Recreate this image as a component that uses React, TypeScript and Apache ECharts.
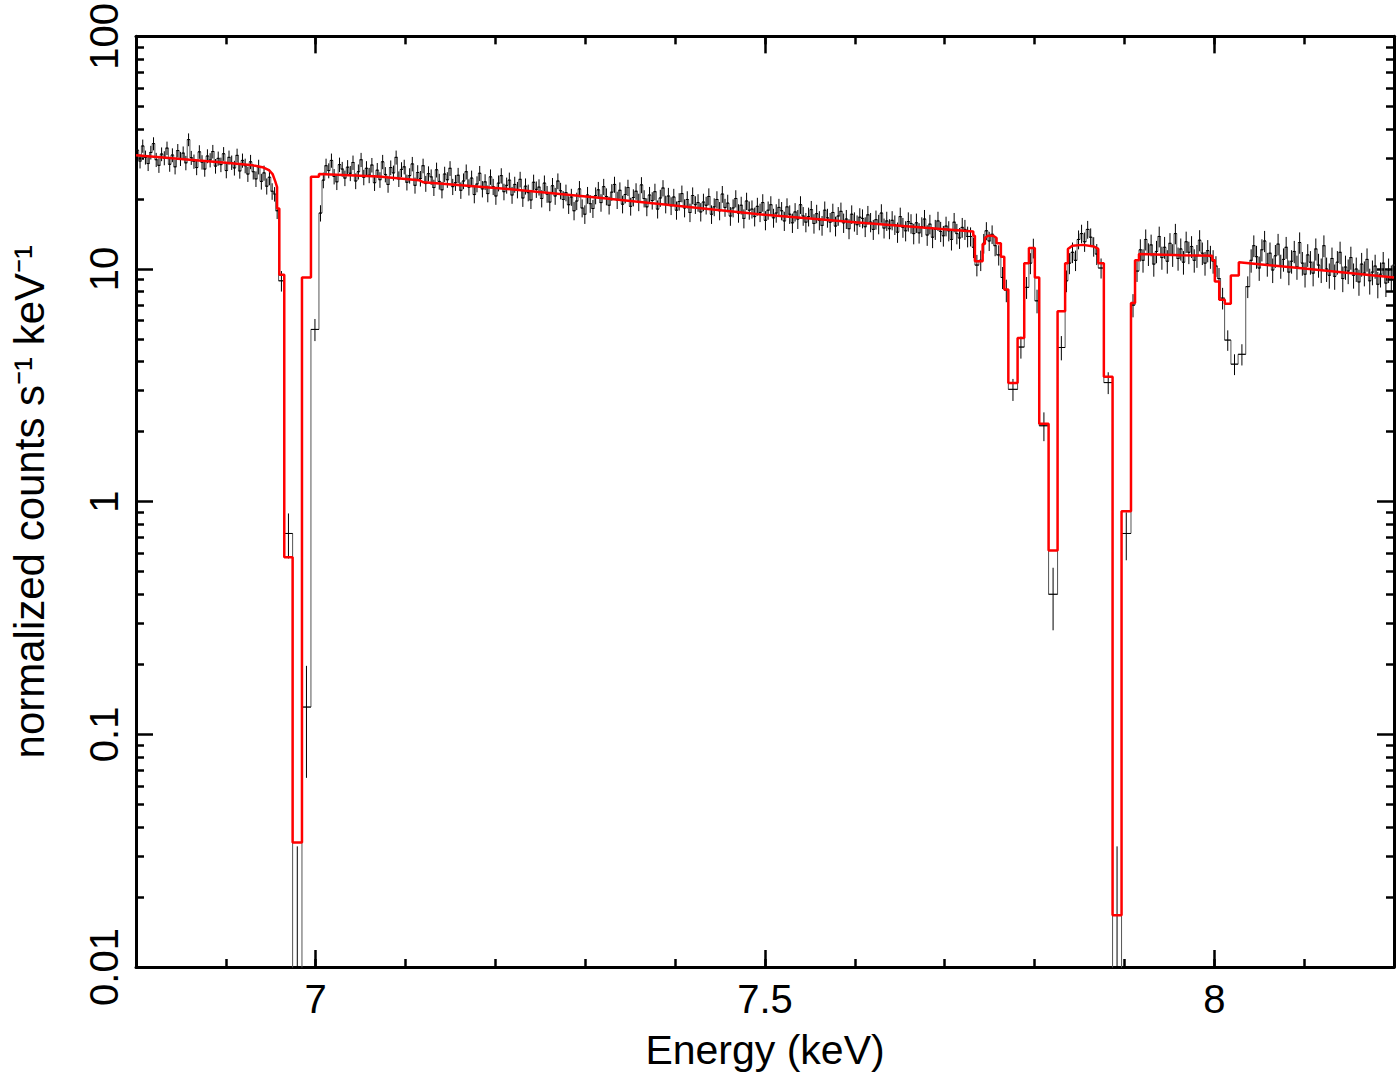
import React, { useEffect, useRef } from "react";
import * as echarts from "echarts";

// ---------- data ----------
const binW = 0.003;
const errK = 0.38; // statistical error scale for continuum bins

const segAStart = 6.8;
const segA = [
  32.4, 29.1, 33.8, 30.2, 28.4, 31.7, 34.6, 29.5, 27.9, 31.2,
  30.0, 33.1, 28.2, 30.9, 27.5, 32.3, 29.8, 31.5, 28.6, 36.0,
  30.1, 29.0, 27.3, 31.9, 28.8, 26.9, 30.6, 29.4, 32.0, 27.7,
  29.9, 28.1, 31.3, 26.5, 30.2, 28.7, 27.2, 30.8, 26.4, 29.3,
  27.8, 25.6, 28.9, 26.2, 24.4, 27.5, 23.8, 25.9, 22.7, 24.8, 21.6,
];

const segBStart = 7.007;
const segB = [
  24.1, 27.8, 26.5, 29.3, 25.0, 23.7, 28.1, 26.9, 24.6, 27.4,
  25.8, 28.7, 23.9, 26.2, 29.5, 24.8, 27.1, 25.3, 28.0, 23.5,
  26.6, 24.2, 28.9, 25.5, 23.1, 27.3, 25.9, 30.2, 24.4, 26.8,
  27.5, 23.6, 25.2, 28.3, 22.9, 26.0, 24.5, 27.8, 23.3, 25.7,
  24.9, 22.4, 26.7, 23.8, 21.9, 25.6, 24.2, 27.1, 22.6, 23.5,
  25.3, 21.8, 23.9, 26.2, 22.5, 24.6, 20.9, 23.2, 25.8, 22.1,
  23.7, 21.1, 24.9, 22.6, 20.6, 23.4, 25.2, 21.5, 22.9, 24.1,
  20.8, 23.1, 21.9, 24.3, 20.2, 22.7, 21.3, 19.8, 23.6, 22.0,
  22.5, 20.1, 23.4, 21.0, 19.4, 22.8, 20.6, 23.9, 21.7, 19.9,
  21.3, 18.9, 20.4, 17.8, 19.6, 22.1, 18.3, 17.2, 20.8, 19.1,
  18.2, 20.7, 21.9, 19.3, 22.6, 20.5, 18.8, 21.4, 23.1, 19.8,
  21.8, 19.0, 20.9, 22.4, 18.6, 20.3, 21.6, 19.4, 23.0, 20.1,
  18.5, 20.8, 19.7, 21.5, 18.1, 20.2, 22.3, 19.0, 20.6, 18.7,
  20.4, 17.9, 19.5, 21.1, 18.3, 19.9, 17.5, 20.7, 18.9, 19.3,
  17.6, 19.4, 18.8, 20.5, 17.2, 18.5, 19.9, 17.8, 21.0, 18.4,
  19.2, 16.9, 18.3, 20.1, 17.4, 18.8, 16.5, 19.6, 17.9, 18.1,
  16.8, 18.6, 17.5, 19.3, 16.2, 17.9, 18.9, 16.6, 17.4, 18.4,
  17.8, 16.1, 18.5, 17.2, 15.8, 17.6, 16.4, 18.9, 16.9, 15.9,
  16.8, 18.0, 15.7, 17.3, 16.2, 15.4, 17.9, 16.6, 15.9, 17.5,
  15.3, 16.9, 17.7, 15.8, 16.4, 14.9, 17.2, 16.0, 15.5, 16.7,
  16.5, 15.2, 17.1, 15.9, 14.8, 16.3, 15.6, 17.4, 15.0, 16.1,
  14.9, 16.2, 15.5, 14.4, 16.8, 15.1, 14.6, 16.0, 15.7, 14.2,
  15.8, 14.3, 15.2, 16.4, 14.0, 15.6, 13.7, 14.8, 16.1, 14.5,
  13.9, 15.3, 14.6, 13.4, 15.9, 14.2, 13.6, 15.1, 14.8, 13.8,
];

const segCStart = 7.9162;
const segC = [
  12.1, 10.9, 13.4, 11.6, 12.7, 10.5, 11.9, 13.8, 11.2, 12.4,
  10.8, 12.9, 11.5, 14.2, 11.1, 12.2, 10.7, 13.1, 11.8, 12.5,
  10.9, 11.4, 13.3, 11.7, 10.6, 12.0, 11.3, 10.8,
];

const segDStart = 8.0395;
const segD = [
  10.9, 12.6, 11.3, 10.1, 12.1, 13.2, 10.5, 11.7, 9.9, 11.4,
  12.8, 10.3, 11.0, 12.4, 9.7, 10.8, 11.9, 10.2, 13.0, 10.6,
  9.5, 11.5, 10.7, 9.6, 12.2, 10.4, 9.9, 12.6, 10.0, 9.4,
  11.1, 9.3, 10.7, 11.8, 9.1, 10.2, 9.8, 11.2, 9.4, 10.0,
  8.8, 10.5, 9.6, 11.0, 8.9, 9.7, 10.3, 8.6, 9.5, 10.6,
  8.7, 9.9, 9.2, 10.4,
];

// bins around the absorption lines (irregular widths)
const lineLo = [
  6.953, 6.9555, 6.9587, 6.965, 6.9743, 6.9847, 6.9947, 7.0036,
  7.727, 7.7305, 7.7336, 7.738, 7.7422, 7.7447, 7.748, 7.751, 7.7545, 7.7577, 7.7625, 7.7663,
  7.7708, 7.7811, 7.7885, 7.7937, 7.797, 7.8003, 7.8052, 7.8156, 7.8256, 7.834,
  7.8371, 7.8405, 7.8439, 7.8473, 7.8506, 7.854, 7.8574, 7.8608, 7.8641, 7.8675,
  7.8709, 7.8771, 7.8868, 7.8968, 7.9073, 7.9118,
  8.0002, 8.0035, 8.007, 8.0115, 8.0185, 8.0265, 8.035,
];
const lineHi = [
  6.9555, 6.9587, 6.965, 6.9743, 6.9847, 6.9947, 7.0036, 7.007,
  7.7305, 7.7336, 7.738, 7.7422, 7.7447, 7.748, 7.751, 7.7545, 7.7577, 7.7625, 7.7663, 7.7708,
  7.7811, 7.7885, 7.7937, 7.797, 7.8003, 7.8052, 7.8156, 7.8256, 7.834, 7.8371,
  7.8405, 7.8439, 7.8473, 7.8506, 7.854, 7.8574, 7.8608, 7.8641, 7.8675, 7.8709,
  7.8771, 7.8868, 7.8968, 7.9073, 7.9118, 7.9162,
  8.0035, 8.007, 8.0115, 8.0185, 8.0265, 8.035, 8.0395,
];
const lineVal = [
  21.0, 17.8, 8.9, 0.73, 0.001, 0.131, 5.5, 17.4,
  13.8, 12.4, 10.4, 10.9, 12.9, 14.6, 13.2, 14.1, 12.6, 11.5, 9.2, 8.1,
  3.04, 4.62, 8.34, 10.6, 12.3, 7.3, 2.12, 0.40, 4.6, 8.9,
  10.6, 11.8, 10.9, 13.4, 14.2, 13.1, 14.8, 13.7, 12.5, 11.6,
  10.1, 3.25, 0.001, 0.73, 7.0, 9.8,
  10.3, 9.1, 7.5, 4.95, 3.9, 4.3, 8.4,
];
const lineErr = [
  1.5, 1.4, 0.9, 0.16, 0.032, 0.066, 0.6, 1.4,
  1.3, 1.25, 1.1, 1.1, 1.25, 1.3, 1.25, 1.3, 1.25, 1.15, 1.0, 0.9,
  0.33, 0.5, 0.9, 1.1, 1.2, 0.85, 0.3, 0.12, 0.55, 0.95,
  1.1, 1.2, 1.1, 1.25, 1.3, 1.25, 1.3, 1.25, 1.2, 1.2,
  1.0, 0.35, 0.032, 0.17, 0.8, 1.0,
  1.05, 1.0, 0.8, 0.5, 0.4, 0.45, 0.9,
];

// model (red) step curve corners
const modelE = [
  6.800, 6.850, 6.900, 6.930, 6.942, 6.948, 6.952, 6.955, 6.957, 6.957, 6.9595, 6.9595, 6.965, 6.965, 6.9743, 6.9743, 6.9847, 6.9847, 6.9947, 6.9947, 7.0036, 7.0036,
  7.07, 7.115, 7.12, 7.207, 7.318, 7.5, 7.6, 7.7318,
  7.7318, 7.7336, 7.7336, 7.7422, 7.7422, 7.7447, 7.7447, 7.748, 7.754, 7.7577, 7.7577, 7.7625, 7.7625, 7.7663, 7.7663, 7.7708, 7.7708, 7.7811, 7.7811, 7.7885, 7.7885, 7.7937, 7.7937, 7.8003, 7.8003, 7.8052, 7.8052, 7.8156, 7.8156, 7.8256, 7.8256, 7.834, 7.834, 7.8371, 7.8371, 7.842, 7.854, 7.866, 7.8709, 7.8709, 7.8771, 7.8771, 7.8868, 7.8868, 7.8968, 7.8968, 7.9073, 7.9073, 7.9118, 7.9118, 7.9162, 7.9162,
  7.9635, 7.9977, 7.9977, 8.0006, 8.0006, 8.0055, 8.0055, 8.0117, 8.0117, 8.0184, 8.0184, 8.0273, 8.0273, 8.1, 8.2,
];
const modelV = [
  30.8, 29.7, 28.6, 27.9, 27.3, 26.6, 25.6, 23.8, 22.5, 18.2, 18.2, 9.46, 9.46, 0.577, 0.577, 0.0343, 0.0343, 9.2, 9.2, 24.9, 24.9, 25.6,
  25.0, 24.1, 23.6, 22.2, 20.2, 17.1, 15.9, 14.5,
  13.9, 13.9, 10.8, 10.8, 12.8, 12.8, 13.6, 13.9, 13.9, 13.6, 12.9, 12.9, 11.3, 11.3, 8.17, 8.17, 3.24, 3.24, 5.05, 5.05, 10.6, 10.6, 12.3, 12.3, 9.2, 9.2, 2.16, 2.16, 0.617, 0.617, 6.58, 6.58, 10.6, 10.6, 12.2, 12.6, 12.7, 12.5, 12.2, 10.6, 10.6, 3.44, 3.44, 0.0167, 0.0167, 0.91, 0.91, 7.14, 7.14, 10.9, 10.9, 11.6,
  11.45, 11.4, 10.9, 10.9, 8.84, 8.84, 7.38, 7.38, 7.09, 7.09, 9.38, 9.38, 10.7, 10.05, 9.2,
];

const xMajorTicks = [7, 7.5, 8];
const xMinorTicks = [6.9, 7.0, 7.1, 7.2, 7.3, 7.4, 7.5, 7.6, 7.7, 7.8, 7.9, 8.0, 8.1];
const yMinorTicks = [0.02, 0.03, 0.04, 0.05, 0.06, 0.07, 0.08, 0.09, 0.2, 0.3, 0.4, 0.5, 0.6, 0.7, 0.8, 0.9, 2, 3, 4, 5, 6, 7, 8, 9, 20, 30, 40, 50, 60, 70, 80, 90];

const FONT = "'Liberation Sans', Arial, Helvetica, sans-serif";
const FLOOR = 1e-4;

function buildBins() {
  const bins: number[][] = [];
  const addSeg = (start: number, vals: number[]) => {
    vals.forEach((v, i) => {
      const lo = start + i * binW;
      bins.push([lo, lo + binW, v, errK * Math.sqrt(v)]);
    });
  };
  addSeg(segAStart, segA);
  addSeg(segBStart, segB);
  addSeg(segCStart, segC);
  addSeg(segDStart, segD);
  lineLo.forEach((lo, i) => bins.push([lo, lineHi[i], lineVal[i], lineErr[i]]));
  bins.sort((a, b) => a[0] - b[0]);
  return bins;
}

export default function App() {
  const ref = useRef<HTMLDivElement>(null);
  useEffect(() => {
    if (!ref.current) return;
    const chart = echarts.init(ref.current, undefined, { renderer: "svg" });
    const bins = buildBins();
    const stepData: number[][] = [];
    bins.forEach((b) => {
      const v = Math.max(b[2], FLOOR);
      stepData.push([b[0], v]);
      stepData.push([b[1], v]);
    });
    const modelData = modelE.map((e, i) => [e, modelV[i]]);

    const axisLine = { show: true, onZero: false, lineStyle: { color: "#000", width: 3 } };
    const tickStyle = { color: "#000", width: 2.5 };
    const xBase = { type: "value", min: 6.8, max: 8.2, splitLine: { show: false } };
    const yBase = { type: "log", logBase: 10, min: 0.01, max: 100, splitLine: { show: false } };

    chart.setOption({
      animation: false,
      backgroundColor: "#fff",
      grid: { left: 134, top: 34, right: 4, bottom: 107, containLabel: false },
      xAxis: [
        {
          ...xBase,
          position: "bottom",
          axisLine,
          axisTick: { show: true, inside: true, length: 17, customValues: xMajorTicks, lineStyle: tickStyle },
          axisLabel: { show: true, customValues: xMajorTicks, fontSize: 40, fontFamily: FONT, color: "#000", margin: 12, formatter: (v: number) => String(v) },
          name: "Energy (keV)",
          nameLocation: "middle",
          nameGap: 62,
          nameTextStyle: { fontSize: 41, fontFamily: FONT, color: "#000" },
        },
        {
          ...xBase,
          position: "bottom",
          axisLine: { show: false },
          axisTick: { show: true, inside: true, length: 8, customValues: xMinorTicks, lineStyle: tickStyle },
          axisLabel: { show: false },
        },
        {
          ...xBase,
          position: "top",
          axisLine,
          axisTick: { show: true, inside: true, length: 17, customValues: xMajorTicks, lineStyle: tickStyle },
          axisLabel: { show: false },
        },
        {
          ...xBase,
          position: "top",
          axisLine: { show: false },
          axisTick: { show: true, inside: true, length: 8, customValues: xMinorTicks, lineStyle: tickStyle },
          axisLabel: { show: false },
        },
      ],
      yAxis: [
        {
          ...yBase,
          position: "left",
          axisLine,
          axisTick: { show: true, inside: true, length: 17, lineStyle: tickStyle },
          axisLabel: { show: true, rotate: 90, fontSize: 40, fontFamily: FONT, color: "#000", margin: 12, formatter: (v: number) => String(v) },
          name: "normalized counts s\u207B\u00B9 keV\u207B\u00B9",
          nameLocation: "middle",
          nameGap: 86,
          nameTextStyle: { fontSize: 42, fontFamily: FONT, color: "#000" },
        },
        {
          ...yBase,
          position: "left",
          axisLine: { show: false },
          axisTick: { show: true, inside: true, length: 8, customValues: yMinorTicks, lineStyle: tickStyle },
          axisLabel: { show: false },
        },
        {
          ...yBase,
          position: "right",
          axisLine,
          axisTick: { show: true, inside: true, length: 17, lineStyle: tickStyle },
          axisLabel: { show: false },
        },
        {
          ...yBase,
          position: "right",
          axisLine: { show: false },
          axisTick: { show: true, inside: true, length: 8, customValues: yMinorTicks, lineStyle: tickStyle },
          axisLabel: { show: false },
        },
      ],
      series: [
        {
          type: "line",
          name: "data-step",
          data: stepData,
          xAxisIndex: 0,
          yAxisIndex: 0,
          symbol: "none",
          clip: true,
          lineStyle: { color: "#555", width: 1 },
          z: 2,
        },
        {
          type: "custom",
          name: "data",
          data: bins,
          xAxisIndex: 0,
          yAxisIndex: 0,
          clip: true,
          encode: { x: [0, 1], y: 2 },
          renderItem: (params: any, api: any) => {
            const lo = api.value(0);
            const hi = api.value(1);
            const v = api.value(2);
            const e = api.value(3);
            const yv = Math.max(v, FLOOR);
            const p0 = api.coord([lo, yv]);
            const p1 = api.coord([hi, yv]);
            const xc = (p0[0] + p1[0]) / 2;
            const top = api.coord([(lo + hi) / 2, v + e]);
            const bot = api.coord([(lo + hi) / 2, Math.max(v - e, FLOOR)]);
            return {
              type: "group",
              children: [
                { type: "line", shape: { x1: p0[0], y1: p0[1], x2: p1[0], y2: p1[1] }, style: { stroke: "#000", lineWidth: 1 } },
                { type: "line", shape: { x1: xc, y1: top[1], x2: xc, y2: bot[1] }, style: { stroke: "#000", lineWidth: 1 } },
              ],
            };
          },
          z: 3,
        },
        {
          type: "line",
          name: "model",
          data: modelData,
          xAxisIndex: 0,
          yAxisIndex: 0,
          symbol: "none",
          clip: true,
          lineStyle: { color: "#ff0000", width: 2.5 },
          z: 4,
        },
      ],
    });
    return () => chart.dispose();
  }, []);
  return <div ref={ref} style={{ position: "fixed", left: 0, top: 0, width: 1398, height: 1075, background: "#fff" }} />;
}
